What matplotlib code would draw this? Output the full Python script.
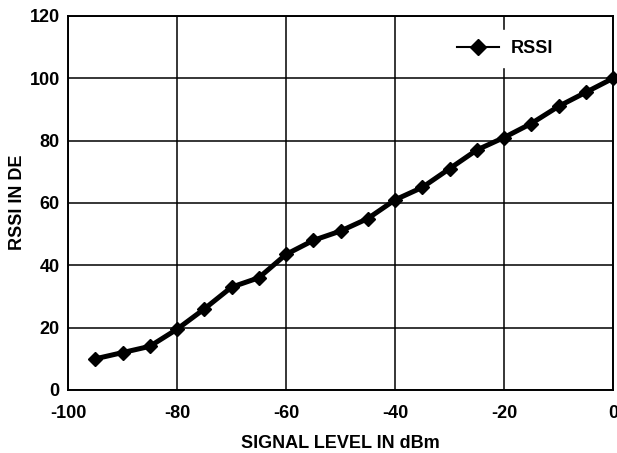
import matplotlib
matplotlib.use("Agg")
import matplotlib.pyplot as plt

plt.rcParams['font.family'] = ['Liberation Sans', 'DejaVu Sans']
plt.rcParams['font.weight'] = 'bold'
plt.rcParams['axes.unicode_minus'] = False

signal_dbm = [-95, -90, -85, -80, -75, -70, -65, -60, -55, -50,
              -45, -40, -35, -30, -25, -20, -15, -10, -5, 0]
rssi = [10, 12, 14, 19.5, 26, 33, 36, 43.5, 48, 51,
        55, 61, 65, 71, 77, 81, 85.5, 91, 95.5, 100]

W, H = 617, 453
fig = plt.figure(figsize=(W / 100, H / 100), dpi=100)
ax = fig.add_axes([68 / W, 1 - 390 / H, 545 / W, 374 / H])

ax.plot(signal_dbm, rssi, color="black", linewidth=3.6, marker="D",
        markersize=7.5, label="RSSI", clip_on=False, zorder=3)

ax.set_xlim(-100, 0)
ax.set_ylim(0, 120)
ax.set_xticks(range(-100, 1, 20))
ax.set_yticks(range(0, 121, 20))
ax.grid(True, color="black", linewidth=1.1)
ax.set_axisbelow(True)
for s in ax.spines.values():
    s.set_linewidth(1.4)
ax.tick_params(length=0, labelsize=13)
ax.tick_params(axis="x", pad=11)
ax.tick_params(axis="y", pad=6)
for lbl in ax.get_xticklabels() + ax.get_yticklabels():
    lbl.set_fontweight("bold")

# axis titles placed by pixel position
fig.text(340 / W, 1 - 443 / H, "SIGNAL LEVEL IN dBm", fontsize=13,
         fontweight="bold", ha="center", va="center")
fig.text(18 / W, 1 - 202 / H, "RSSI IN DE", fontsize=13, fontweight="bold",
         ha="center", va="center", rotation=90)

leg = ax.legend(loc="center", bbox_to_anchor=(0.802, 0.912), frameon=True,
                fontsize=13, handlelength=2.3, handletextpad=0.65,
                borderpad=0.55, borderaxespad=0)
frame = leg.get_frame()
frame.set_edgecolor("white")
frame.set_facecolor("white")
frame.set_alpha(1)
frame.set_boxstyle("square", pad=0)
leg.get_lines()[0].set_linewidth(1.5)
leg.get_lines()[0].set_markersize(8)

fig.savefig("out.png", dpi=100)
